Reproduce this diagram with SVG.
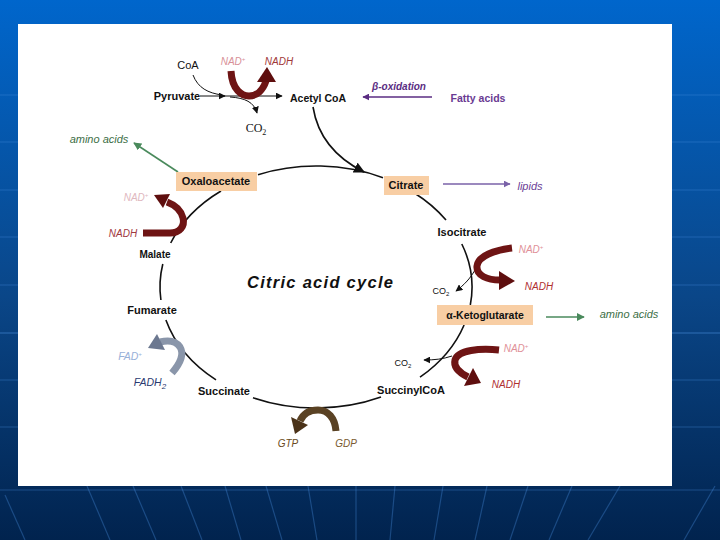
<svg xmlns="http://www.w3.org/2000/svg" width="720" height="540" viewBox="0 0 720 540">
<defs>
<linearGradient id="bg" x1="0" y1="0" x2="0" y2="1">
<stop offset="0" stop-color="#0066cc"/>
<stop offset="0.55" stop-color="#0a4688"/>
<stop offset="1" stop-color="#01234e"/>
</linearGradient>
<marker id="mk" viewBox="0 0 10 10" refX="9" refY="5" markerWidth="7" markerHeight="7" orient="auto" markerUnits="userSpaceOnUse"><path d="M0,0 L10,5 L0,10 z" fill="#111"/></marker>
<marker id="mkb" viewBox="0 0 10 10" refX="9" refY="5" markerWidth="11" markerHeight="11" orient="auto" markerUnits="userSpaceOnUse"><path d="M0,0 L10,5 L0,10 z" fill="#111"/></marker>
<marker id="mkp" viewBox="0 0 10 10" refX="9" refY="5" markerWidth="7" markerHeight="7" orient="auto" markerUnits="userSpaceOnUse"><path d="M0,0 L10,5 L0,10 z" fill="#5a2c82"/></marker>
<marker id="mkl" viewBox="0 0 10 10" refX="9" refY="5" markerWidth="7" markerHeight="7" orient="auto" markerUnits="userSpaceOnUse"><path d="M0,0 L10,5 L0,10 z" fill="#7a62a8"/></marker>
<marker id="mkg" viewBox="0 0 10 10" refX="9" refY="5" markerWidth="8" markerHeight="8" orient="auto" markerUnits="userSpaceOnUse"><path d="M0,0 L10,5 L0,10 z" fill="#4a8a5c"/></marker>
<style>
.t{font-family:"Liberation Sans",Arial,sans-serif;font-size:11px;font-weight:bold;fill:#111;text-anchor:middle}
.n{font-weight:normal}
.i{font-style:italic;font-weight:normal}
.s{font-family:"Liberation Serif","Times New Roman",serif;font-weight:normal}
.box{fill:#f8cea4}
.arc{fill:none;stroke:#111;stroke-width:1.6}
.thin{fill:none;stroke:#111;stroke-width:1}
.red{fill:none;stroke:#6e1414;stroke-width:7}
.redh{fill:#5e0e0e}
.grid{stroke:#4a90e0;stroke-opacity:0.35;stroke-width:1.2;fill:none}
</style>
</defs>

<g id="background">
<rect x="0" y="0" width="720" height="540" fill="url(#bg)"/>
<g class="grid">
<line x1="0" y1="95" x2="720" y2="95"/>
<line x1="0" y1="142" x2="720" y2="142"/>
<line x1="0" y1="190" x2="720" y2="190"/>
<line x1="0" y1="237" x2="720" y2="237"/>
<line x1="0" y1="285" x2="720" y2="285"/>
<line x1="0" y1="333" x2="720" y2="333" stroke-opacity="0.6"/>
<line x1="0" y1="380" x2="720" y2="380"/>
<line x1="0" y1="427" x2="720" y2="427"/>
<line x1="0" y1="490" x2="720" y2="490"/>
<line x1="5" y1="495" x2="25" y2="540"/>
<line x1="87" y1="486" x2="110" y2="540"/>
<line x1="133" y1="486" x2="156" y2="540"/>
<line x1="181" y1="486" x2="202" y2="540"/>
<line x1="225" y1="486" x2="241" y2="540"/>
<line x1="266" y1="486" x2="282" y2="540"/>
<line x1="308" y1="486" x2="317" y2="540"/>
<line x1="356" y1="486" x2="356" y2="540"/>
<line x1="395" y1="486" x2="390" y2="540"/>
<line x1="443" y1="486" x2="434" y2="540"/>
<line x1="487" y1="486" x2="475" y2="540"/>
<line x1="528" y1="486" x2="510" y2="540"/>
<line x1="572" y1="486" x2="549" y2="540"/>
<line x1="620" y1="486" x2="588" y2="540"/>
<line x1="715" y1="486" x2="684" y2="540"/>
</g>
<rect x="18" y="24" width="654" height="462" fill="#ffffff"/>
</g>

<g id="connectors">
<path class="arc" d="M258,174.7 A156,121 0 0 1 383,177.7"/>
<path class="arc" d="M414,192.8 A156,121 0 0 1 446,220.1"/>
<path class="arc" d="M461.8,244 A156,121 0 0 1 470.3,305"/>
<path class="arc" d="M464.1,325 A156,121 0 0 1 420,377.2"/>
<path class="arc" d="M381,397 A156,121 0 0 1 253,397.7"/>
<path class="arc" d="M216,379.9 A156,121 0 0 1 165.9,320"/>
<path class="arc" d="M160.9,300 A156,121 0 0 1 162.8,264"/>
<path class="arc" d="M170.7,243 A156,121 0 0 1 221,191"/>
<path class="arc" d="M313,107 C318,138 336,158 364,172" marker-end="url(#mkb)"/>
<line class="thin" x1="200" y1="96" x2="225" y2="96" marker-end="url(#mk)"/>
<line class="thin" x1="224" y1="96" x2="282" y2="96" marker-end="url(#mk)"/>
<path class="thin" d="M193,75 C198,88 208,93 222,95"/>
<path class="thin" d="M230,97 C245,98 254,102 257,113" marker-end="url(#mk)"/>
<line x1="432" y1="97" x2="363" y2="97" stroke="#5a2c82" stroke-width="1.3" marker-end="url(#mkp)"/>
<line x1="443" y1="184" x2="510" y2="184" stroke="#7a62a8" stroke-width="1.3" marker-end="url(#mkl)"/>
<line x1="178" y1="172" x2="134" y2="143" stroke="#4a8a5c" stroke-width="1.6" marker-end="url(#mkg)"/>
<line x1="546" y1="317" x2="584" y2="317" stroke="#4a8a5c" stroke-width="1.3" marker-end="url(#mkg)"/>
<path class="thin" d="M476,268 C471,278 464,285 456,291" marker-end="url(#mk)"/>
<path class="thin" d="M452,356 C443,359 435,360 424,360" marker-end="url(#mk)"/>
</g>

<g id="cofactor-arrows">
<path class="red" d="M231,71 C232,90 242,96 249,96 C257,96 263,90 266,81"/>
<polygon class="redh" points="257,82 276,82 267,67"/>
<path class="red" d="M143,233 L170,233 C180,233 185,226 183,218 C181,210 175,205 167,202"/>
<polygon class="redh" points="170,194 163,208 154,195"/>
<path class="red" d="M512,248 C495,250 478,256 477,266 C476,276 488,280 500,280"/>
<polygon class="redh" points="499,271 499,290 515,281"/>
<path class="red" d="M499,350 C480,348 458,350 455,360 C453,368 460,373 468,377"/>
<polygon class="redh" points="464,386 473,368 481,383"/>
<path d="M172,373 C178,366 185,355 180,347 C176,341 168,340 160,342" fill="none" stroke="#8a96aa" stroke-width="7"/>
<polygon points="165,350 157,334 148,348" fill="#6c7890"/>
<path d="M336,431 C335,418 328,410 318,410 C309,410 303,414 300,421" fill="none" stroke="#5a4224" stroke-width="7"/>
<polygon points="308,425 291,417 295,434" fill="#4a3218"/>
</g>

<g id="pyruvate"><text class="t" x="177" y="100">Pyruvate</text></g>
<g id="coa"><text class="t n" x="188" y="69">CoA</text></g>
<g id="co2-top"><text class="t s" x="256" y="132" style="font-size:12px">CO<tspan style="font-size:8px" dy="3">2</tspan></text></g>
<g id="nad-top"><text class="t i" x="233" y="65" style="font-size:10px;fill:#d89098">NAD<tspan style="font-size:6px" dy="-4">+</tspan></text></g>
<g id="nadh-top"><text class="t i" x="279" y="65" style="font-size:10px;fill:#a03838">NADH</text></g>
<g id="acetylcoa"><text class="t" x="318" y="102" style="font-size:10.5px">Acetyl CoA</text></g>
<g id="beta-oxidation"><text class="t" x="399" y="90" style="font-size:10px;font-style:italic;fill:#5a2c82">β-oxidation</text></g>
<g id="fatty-acids"><text class="t" x="478" y="102" style="font-size:10.5px;fill:#6a3a92">Fatty acids</text></g>
<g id="amino-acids-left"><text class="t i" x="99" y="143" style="fill:#3c6e46">amino acids</text></g>
<g id="oxaloacetate"><rect class="box" x="176" y="172" width="81" height="19"/><text class="t" x="216" y="185">Oxaloacetate</text></g>
<g id="citrate"><rect class="box" x="384" y="176" width="45" height="19"/><text class="t" x="406" y="189">Citrate</text></g>
<g id="lipids"><text class="t i" x="530" y="190" style="fill:#6a4096">lipids</text></g>
<g id="nad-left"><text class="t i" x="136" y="201" style="font-size:10px;fill:#e0b8c0">NAD<tspan style="font-size:6px" dy="-4">+</tspan></text></g>
<g id="nadh-left"><text class="t i" x="123" y="237" style="font-size:10px;fill:#a03840">NADH</text></g>
<g id="malate"><text class="t" x="155" y="258" style="font-size:10px">Malate</text></g>
<g id="isocitrate"><text class="t" x="462" y="236">Isocitrate</text></g>
<g id="nad-right"><text class="t i" x="531" y="253" style="font-size:10px;fill:#e09098">NAD<tspan style="font-size:6px" dy="-4">+</tspan></text></g>
<g id="nadh-right"><text class="t i" x="539" y="290" style="font-size:10px;fill:#b03030">NADH</text></g>
<g id="co2-iso"><text class="t n" x="441" y="294" style="font-size:9px">CO<tspan style="font-size:6px" dy="2">2</tspan></text></g>
<g id="title"><text class="t" x="320" y="288" style="font-size:16.5px;font-style:italic" textLength="146" lengthAdjust="spacing">Citric acid cycle</text></g>
<g id="alpha-ketoglutarate"><rect class="box" x="437" y="305" width="96" height="20"/><text class="t" x="485" y="319" style="font-size:10.5px">α-Ketoglutarate</text></g>
<g id="amino-acids-right"><text class="t i" x="629" y="318" style="fill:#3c6e46">amino acids</text></g>
<g id="fumarate"><text class="t" x="152" y="314">Fumarate</text></g>
<g id="fad"><text class="t i" x="130" y="360" style="font-size:10.5px;fill:#98b0d8">FAD<tspan style="font-size:6px" dy="-4">+</tspan></text></g>
<g id="fadh2"><text class="t i" x="150" y="386" style="font-size:10.5px;fill:#2a3a70">FADH<tspan style="font-size:8px" dy="3">2</tspan></text></g>
<g id="co2-low"><text class="t n" x="403" y="366" style="font-size:9px">CO<tspan style="font-size:6px" dy="2">2</tspan></text></g>
<g id="nad-low"><text class="t i" x="516" y="352" style="font-size:10px;fill:#e09098">NAD<tspan style="font-size:6px" dy="-4">+</tspan></text></g>
<g id="nadh-low"><text class="t i" x="506" y="388" style="font-size:10px;fill:#b03030">NADH</text></g>
<g id="succinate"><text class="t" x="224" y="395">Succinate</text></g>
<g id="succinylcoa"><text class="t" x="411" y="394">SuccinylCoA</text></g>
<g id="gtp"><text class="t i" x="288" y="447" style="font-size:10px;fill:#6a4a20">GTP</text></g>
<g id="gdp"><text class="t i" x="346" y="447" style="font-size:10px;fill:#7a5a30">GDP</text></g>
</svg>
